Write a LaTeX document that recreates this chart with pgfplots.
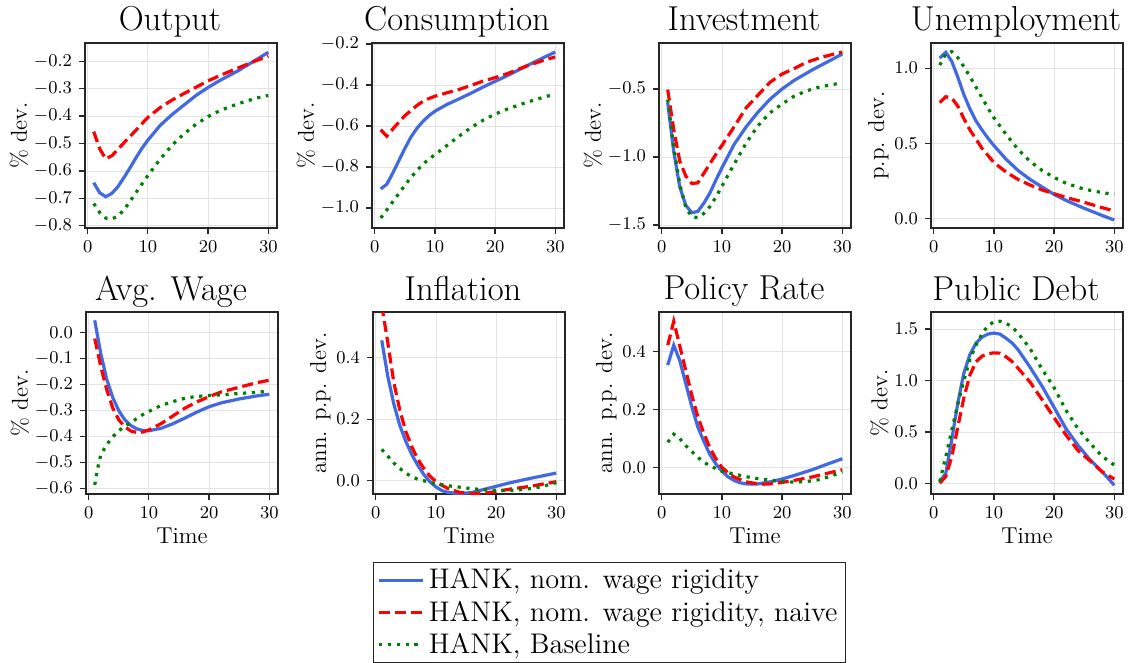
\documentclass[border=0pt]{standalone}
\usepackage{pgfplots}
\pgfplotsset{compat=1.18}
\definecolor{royal}{RGB}{65,105,225}
\definecolor{dgreen}{RGB}{0,128,0}
\pgfplotsset{
 panel/.style={
  scale only axis, width=96pt,
  xmin=-0.45, xmax=31.45, xtick={0,10,20,30},
  grid=major, grid style={gray!22, line width=0.4pt},
  axis line style={black!85, line width=0.6pt},
  tick align=outside, xtick pos=bottom, ytick pos=left,
  major tick length=3pt,
  tick style={black!85, line width=0.6pt},
  ticklabel style={font=\fontsize{9.5}{10}\selectfont},
  title style={font=\fontsize{17.3}{20}\selectfont, anchor=base, yshift=0pt, xshift=-5.5pt},
  label style={font=\fontsize{11.5}{13}\selectfont},
  ylabel shift=-4pt, xlabel shift=-2pt,
  y tick label style={/pgf/number format/.cd, fixed, fixed zerofill, precision=1},
  scaled y ticks=false,
  anchor=north west,
 },
 top/.style={panel, height=92.5pt},
 bot/.style={panel, height=91pt, xlabel={Time}},
 s1/.style={color=royal, line width=1.6pt, solid},
 s2/.style={color=red, line width=1.6pt, dash pattern=on 5.5pt off 2.5pt},
 s3/.style={color=dgreen, line width=1.6pt, dash pattern=on 1.6pt off 2.8pt},
}
\begin{document}
\begin{tikzpicture}
\useasboundingbox (0,0) rectangle (564.5pt,-331.5pt);
% Output
\begin{axis}[top, at={(42.5pt,-21.5pt)}, title={Output}, ylabel={\% dev.},
  ymin=-0.808, ymax=-0.134, ytick={-0.8,-0.7,-0.6,-0.5,-0.4,-0.3,-0.2}]
\addplot[s1] coordinates {(1,-0.643)(2,-0.680)(3,-0.694)(4,-0.682)(5,-0.658)(6,-0.625)(7,-0.59)(8,-0.553)(9,-0.518)(10,-0.488)(12,-0.435)(14,-0.395)(16,-0.36)(18,-0.325)(20,-0.296)(22,-0.27)(25,-0.235)(28,-0.195)(30,-0.168)};
\addplot[s2] coordinates {(1,-0.457)(2,-0.52)(3,-0.556)(4,-0.545)(5,-0.522)(6,-0.498)(7,-0.475)(8,-0.452)(9,-0.428)(10,-0.405)(12,-0.37)(14,-0.342)(16,-0.318)(18,-0.295)(20,-0.272)(22,-0.252)(25,-0.225)(28,-0.198)(30,-0.182)};
\addplot[s3] coordinates {(1,-0.719)(2,-0.752)(3,-0.772)(4,-0.775)(5,-0.765)(6,-0.742)(7,-0.712)(8,-0.68)(9,-0.648)(10,-0.617)(12,-0.558)(14,-0.507)(16,-0.465)(18,-0.43)(20,-0.402)(22,-0.38)(25,-0.355)(28,-0.335)(30,-0.325)};
\end{axis}
% Consumption
\begin{axis}[top, at={(186pt,-21.5pt)}, title={Consumption}, ylabel={\% dev.},
  ymin=-1.098, ymax=-0.195, ytick={-1.0,-0.8,-0.6,-0.4,-0.2}]
\addplot[s1] coordinates {(1,-0.907)(2,-0.885)(3,-0.83)(4,-0.77)(5,-0.71)(6,-0.655)(7,-0.612)(8,-0.578)(9,-0.55)(10,-0.528)(12,-0.495)(14,-0.468)(16,-0.44)(18,-0.41)(20,-0.382)(22,-0.355)(25,-0.31)(28,-0.267)(30,-0.239)};
\addplot[s2] coordinates {(1,-0.618)(2,-0.65)(3,-0.615)(4,-0.582)(5,-0.55)(6,-0.525)(7,-0.5)(8,-0.48)(9,-0.466)(10,-0.455)(12,-0.438)(14,-0.422)(16,-0.402)(18,-0.381)(20,-0.364)(22,-0.345)(25,-0.31)(28,-0.28)(30,-0.263)};
\addplot[s3] coordinates {(1,-1.049)(2,-1.01)(3,-0.97)(4,-0.93)(5,-0.89)(6,-0.852)(7,-0.818)(8,-0.787)(9,-0.762)(10,-0.74)(12,-0.695)(14,-0.65)(16,-0.608)(18,-0.572)(20,-0.542)(22,-0.518)(25,-0.487)(28,-0.46)(30,-0.444)};
\end{axis}
% Investment
\begin{axis}[top, at={(329.5pt,-21.5pt)}, title={Investment}, ylabel={\% dev.},
  ymin=-1.522, ymax=-0.162, ytick={-1.5,-1.0,-0.5}]
\addplot[s1] coordinates {(1,-0.603)(2,-0.96)(3,-1.22)(4,-1.355)(5,-1.41)(6,-1.4)(7,-1.34)(8,-1.265)(9,-1.17)(10,-1.08)(12,-0.91)(14,-0.78)(16,-0.67)(18,-0.575)(20,-0.5)(22,-0.437)(25,-0.36)(28,-0.29)(30,-0.243)};
\addplot[s2] coordinates {(1,-0.505)(2,-0.8)(3,-1.03)(4,-1.14)(5,-1.195)(6,-1.19)(7,-1.12)(8,-1.05)(9,-0.98)(10,-0.915)(12,-0.78)(14,-0.64)(16,-0.545)(18,-0.45)(20,-0.39)(22,-0.35)(24,-0.305)(26,-0.275)(28,-0.25)(30,-0.229)};
\addplot[s3] coordinates {(1,-0.578)(2,-0.93)(3,-1.2)(4,-1.37)(5,-1.44)(6,-1.445)(7,-1.415)(8,-1.365)(9,-1.295)(10,-1.215)(12,-1.055)(14,-0.9)(16,-0.77)(18,-0.675)(20,-0.61)(22,-0.553)(24,-0.515)(26,-0.488)(28,-0.47)(30,-0.455)};
\end{axis}
% Unemployment
\begin{axis}[top, at={(465.5pt,-21.5pt)}, title={Unemployment}, ylabel={p.p. dev.},
  ymin=-0.063, ymax=1.167, ytick={0,0.5,1.0}]
\addplot[s1] coordinates {(1,1.067)(2,1.105)(3,1.045)(4,0.94)(5,0.825)(6,0.73)(7,0.65)(8,0.59)(9,0.535)(10,0.485)(12,0.395)(14,0.32)(16,0.26)(18,0.21)(20,0.16)(22,0.12)(25,0.068)(28,0.02)(30,-0.01)};
\addplot[s2] coordinates {(1,0.77)(2,0.81)(3,0.8)(4,0.748)(5,0.665)(6,0.59)(7,0.53)(8,0.468)(9,0.42)(10,0.372)(12,0.31)(14,0.26)(16,0.223)(18,0.19)(20,0.165)(22,0.14)(25,0.108)(28,0.072)(30,0.05)};
\addplot[s3] coordinates {(1,1.02)(2,1.095)(3,1.11)(4,1.07)(5,1.01)(6,0.945)(7,0.875)(8,0.805)(9,0.735)(10,0.67)(12,0.56)(14,0.46)(16,0.38)(18,0.32)(20,0.273)(22,0.234)(25,0.195)(28,0.172)(30,0.16)};
\end{axis}
% Avg. Wage
\begin{axis}[bot, at={(43pt,-156pt)}, title={Avg. Wage}, ylabel={\% dev.},
  ymin=-0.620, ymax=0.079, ytick={-0.6,-0.5,-0.4,-0.3,-0.2,-0.1,0}]
\addplot[s1] coordinates {(1,0.047)(2,-0.08)(3,-0.18)(4,-0.25)(5,-0.30)(6,-0.335)(7,-0.357)(8,-0.37)(9,-0.376)(10,-0.377)(12,-0.368)(14,-0.35)(16,-0.328)(18,-0.305)(20,-0.285)(22,-0.27)(25,-0.255)(28,-0.243)(30,-0.237)};
\addplot[s2] coordinates {(1,-0.023)(2,-0.13)(3,-0.22)(4,-0.29)(5,-0.335)(6,-0.362)(7,-0.378)(8,-0.384)(9,-0.382)(10,-0.374)(12,-0.35)(14,-0.32)(16,-0.29)(18,-0.266)(20,-0.246)(22,-0.228)(25,-0.21)(28,-0.192)(30,-0.183)};
\addplot[s3] coordinates {(1,-0.585)(1.5,-0.52)(2,-0.47)(3,-0.43)(4,-0.40)(5,-0.377)(6,-0.36)(7,-0.345)(8,-0.33)(9,-0.315)(10,-0.303)(12,-0.28)(14,-0.265)(16,-0.252)(18,-0.245)(20,-0.242)(22,-0.239)(25,-0.234)(28,-0.229)(30,-0.225)};
\end{axis}
% Inflation
\begin{axis}[bot, at={(186.5pt,-156pt)}, title={Inflation}, title style={xshift=2.5pt}, ylabel={ann. p.p. dev.},
  ymin=-0.043, ymax=0.548, ytick={0,0.2,0.4},
  legend style={at={(0,-0.3736)}, anchor=north west, draw=black!85, line width=0.6pt,
    font=\fontsize{14.2}{16}\selectfont, cells={anchor=west}, inner xsep=2pt, inner ysep=1pt, row sep=0.5pt},
  legend image code/.code={\draw[#1] (0pt,0pt) -- (22pt,0pt);}]
\addplot[s1] coordinates {(1,0.456)(2,0.34)(3,0.25)(4,0.18)(5,0.128)(6,0.085)(7,0.05)(8,0.02)(9,-0.003)(10,-0.02)(11,-0.032)(12,-0.038)(14,-0.042)(16,-0.038)(18,-0.028)(20,-0.018)(22,-0.008)(25,0.005)(28,0.017)(30,0.025)};
\addlegendentry{HANK, nom. wage rigidity}
\addplot[s2] coordinates {(1,0.57)(2,0.45)(3,0.32)(4,0.23)(5,0.16)(6,0.11)(7,0.07)(8,0.04)(9,0.015)(10,-0.003)(11,-0.015)(12,-0.025)(14,-0.038)(16,-0.042)(18,-0.04)(20,-0.035)(22,-0.028)(25,-0.02)(28,-0.01)(30,-0.003)};
\addlegendentry{HANK, nom. wage rigidity, naive}
\addplot[s3] coordinates {(1,0.102)(2,0.08)(3,0.058)(4,0.04)(5,0.025)(6,0.013)(7,0.005)(8,0.0)(9,-0.005)(10,-0.01)(12,-0.016)(14,-0.021)(16,-0.026)(18,-0.029)(20,-0.031)(22,-0.032)(24,-0.029)(26,-0.025)(28,-0.017)(30,-0.006)};
\addlegendentry{HANK, Baseline}
\end{axis}
% Policy Rate
\begin{axis}[bot, at={(329.5pt,-156pt)}, title={Policy Rate}, ylabel={ann. p.p. dev.},
  ymin=-0.092, ymax=0.538, ytick={0,0.2,0.4}]
\addplot[s1] coordinates {(1,0.354)(2,0.423)(3,0.37)(4,0.29)(5,0.21)(6,0.14)(7,0.09)(8,0.045)(9,0.012)(10,-0.013)(11,-0.032)(12,-0.045)(13,-0.053)(14,-0.057)(15,-0.058)(16,-0.057)(18,-0.05)(20,-0.04)(22,-0.028)(25,-0.008)(28,0.015)(30,0.03)};
\addplot[s2] coordinates {(1,0.423)(2,0.506)(3,0.42)(4,0.335)(5,0.25)(6,0.175)(7,0.118)(8,0.068)(9,0.03)(10,0.0)(11,-0.018)(12,-0.033)(14,-0.05)(16,-0.057)(17,-0.058)(18,-0.057)(20,-0.052)(22,-0.045)(25,-0.033)(28,-0.018)(30,-0.008)};
\addplot[s3] coordinates {(1,0.087)(2,0.115)(3,0.10)(4,0.075)(5,0.055)(6,0.035)(7,0.018)(8,0.006)(9,-0.004)(10,-0.013)(12,-0.023)(14,-0.032)(16,-0.039)(18,-0.044)(20,-0.048)(22,-0.051)(24,-0.049)(26,-0.043)(28,-0.031)(30,-0.015)};
\end{axis}
% Public Debt
\begin{axis}[bot, at={(465.5pt,-156pt)}, title={Public Debt}, ylabel={\% dev.},
  ymin=-0.1, ymax=1.664, ytick={0,0.5,1.0,1.5}]
\addplot[s1] coordinates {(1,0.02)(2,0.1)(3,0.43)(4,0.78)(5,1.07)(6,1.25)(7,1.36)(8,1.42)(9,1.45)(10,1.46)(11,1.45)(12,1.41)(13,1.365)(14,1.3)(16,1.13)(18,0.945)(20,0.74)(22,0.53)(24,0.37)(26,0.23)(28,0.115)(30,-0.015)};
\addplot[s2] coordinates {(1,0.005)(2,0.07)(3,0.26)(4,0.55)(5,0.83)(6,1.05)(7,1.18)(8,1.235)(9,1.26)(10,1.268)(11,1.265)(12,1.23)(13,1.185)(14,1.12)(16,0.985)(18,0.815)(20,0.64)(22,0.47)(24,0.32)(26,0.22)(28,0.115)(30,0.045)};
\addplot[s3] coordinates {(1,0.02)(2,0.26)(3,0.52)(4,0.77)(5,1.0)(6,1.2)(7,1.34)(8,1.45)(9,1.53)(10,1.57)(11,1.575)(12,1.555)(13,1.52)(14,1.46)(16,1.31)(18,1.11)(20,0.93)(22,0.71)(24,0.53)(26,0.39)(28,0.265)(30,0.18)};
\end{axis}
\end{tikzpicture}
\end{document}
